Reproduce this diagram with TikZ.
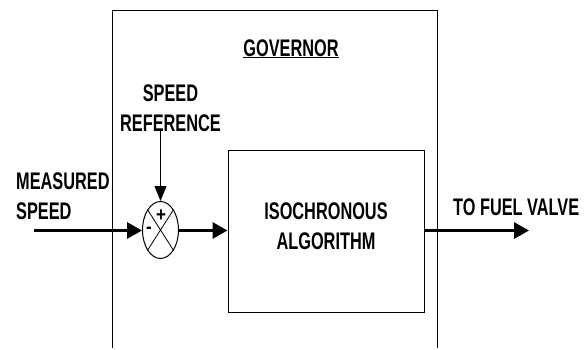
\documentclass[tikz,border=0pt]{standalone}
\usepackage{fontspec}
\newfontfamily\lab{Liberation Sans}[FakeStretch=0.68]
\newfontfamily\signfont{Liberation Sans}[FakeStretch=0.85]
\usetikzlibrary{arrows.meta,shapes.geometric}
\tikzset{
  thin line/.style={line width=1pt},
  thick arrow/.style={line width=3pt,-{Triangle[length=15pt,width=16pt]}},
  thin arrow/.style={line width=1pt,-{Triangle[length=15pt,width=12pt]}},
  label/.style={font=\lab\bfseries\fontsize{24}{30}\selectfont,inner sep=0pt},
  sign/.style={font=\signfont\bfseries\fontsize{20}{20}\selectfont,inner sep=0pt},
  block/.style={draw,line width=1pt,minimum width=196pt,minimum height=162pt,inner sep=0pt},
  summer/.style={draw,ellipse,line width=1pt,minimum width=36pt,minimum height=57pt,inner sep=0pt}
}
\begin{document}
\begin{tikzpicture}[x=1pt,y=-1pt]
\useasboundingbox (0,0) rectangle (584,349);
% governor box (open at bottom)
\draw[thin line] (112,348) -- (112,10) -- (437.5,10) -- (437.5,348);
\node[label,anchor=base] (gov) at (291,56) {\underline{GOVERNOR}};
% blocks
\node[block] (alg) at (326,231) {};
\node[label,align=center] (algtxt) at (326,226.6) {ISOCHRONOUS\\ALGORITHM};
\node[summer] (sum) at (160.5,230) {};
\draw[line width=0.8pt] (sum.north west) -- (sum.south east);
\draw[line width=0.8pt] (sum.north east) -- (sum.south west);
\node[sign] (plus) at (161,215.5) {+};
\node[sign] (minus) at (149,230) {-};
% labels
\node[label,align=center] (ref) at (170.5,108.6) {SPEED\\REFERENCE};
\node[label,align=left,anchor=west] (meas) at (16,196.6) {MEASURED\\SPEED};
\node[label,anchor=base west] (fuel) at (453,215) {TO FUEL VALVE};
% connectors
\coordinate (in) at (34,230.5);
\coordinate (refstart) at (160.5,131);
\coordinate (out) at (529,230.5);
\draw[thick arrow] (in) -- (sum.west|-in);
\draw[thin arrow] (refstart) -- (sum.north);
\draw[thick arrow] (sum.east|-in) -- (alg.west|-in);
\draw[thick arrow] (alg.east|-in) -- (out);
\end{tikzpicture}
\end{document}
